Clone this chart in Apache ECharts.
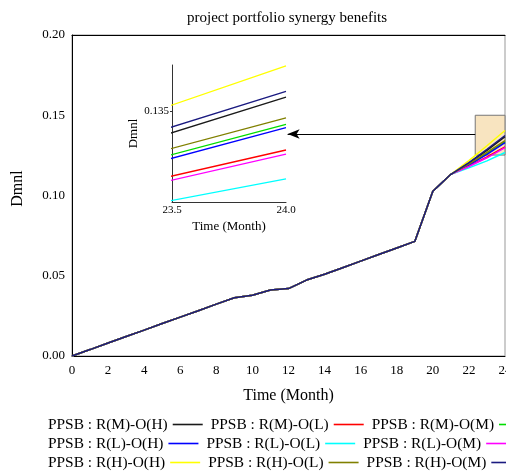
<!DOCTYPE html>
<html><head><meta charset="utf-8">
<script src="https://cdn.jsdelivr.net/npm/echarts@6/dist/echarts.min.js"></script>
<style>html,body{margin:0;padding:0;background:#fff}#c{width:506px;height:471px}</style>
</head><body><div id="c"></div>
<script>
// ---- data ----
const months = [0,1,2,3,4,5,6,7,8,9,10,11,12,13,14,15,16,17,18,19,20,21,22,23,24];
// values common to every scenario (month 0..21)
const sharedValues = [0,0.0040,0.0081,0.0121,0.0161,0.0202,0.0242,0.0282,0.0323,0.0363,0.0378,0.0411,0.0420,0.0473,0.0509,0.0550,0.0591,0.0632,0.0673,0.0714,0.1026,0.1132];
// values for months 22, 23, 24
const tailRMOH = [0.1202,0.1281,0.1367];
const tailRMOL = [0.1183,0.1240,0.1303];
const tailRMOM = [0.1193,0.1261,0.1334];
const tailRLOH = [0.1190,0.1256,0.1330];
const tailRLOL = [0.1172,0.1216,0.1268];
const tailRLOM = [0.1181,0.1235,0.1298];
const tailRHOH = [0.1217,0.1310,0.1405];
const tailRHOL = [0.1196,0.1268,0.1342];
const tailRHOM = [0.1205,0.1288,0.1374];
const seriesNames = ['PPSB : R(M)-O(H)','PPSB : R(M)-O(L)','PPSB : R(M)-O(M)',
                     'PPSB : R(L)-O(H)','PPSB : R(L)-O(L)','PPSB : R(L)-O(M)',
                     'PPSB : R(H)-O(H)','PPSB : R(H)-O(L)','PPSB : R(H)-O(M)'];
const seriesTails = [tailRMOH,tailRMOL,tailRMOM,tailRLOH,tailRLOL,tailRLOM,tailRHOH,tailRHOL,tailRHOM];
const seriesColors = ['#1a1a1a','#ff0000','#00dd00','#0000ff','#00ffff','#ff00ff','#ffff00','#808000','#1a1a80'];
const insetYTick = [0.135];
const insetXRange = [23.5,24.0];
const insetYRange = [0.1240,0.1406];
const zoomBoxX = [22.35,24.2];
const zoomBoxY = [0.1252,0.1500];
const arrowX = [22.35,11.95];
const arrowY = 0.1383;

const FONT = 'Liberation Serif';
function buildData(tail){
  return months.map((m,i)=>[m, i < sharedValues.length ? sharedValues[i] : tail[i - sharedValues.length]]);
}
const series = [];
series.push({
  type:'line', xAxisIndex:0, yAxisIndex:0, data:[], z:1, silent:true, clip:false,
  markArea:{silent:true, itemStyle:{color:'#f8e4c0', borderColor:'#777', borderWidth:1, opacity:1},
    data:[[{coord:[zoomBoxX[0],zoomBoxY[1]]},{coord:[zoomBoxX[1],zoomBoxY[0]]}]]},
  markLine:{silent:true, symbol:['none','arrow'], symbolSize:[7,12], label:{show:false},
    lineStyle:{color:'#000', width:1, type:'solid'},
    data:[[{coord:[arrowX[0],arrowY]},{coord:[arrowX[1],arrowY]}]]}
});
seriesNames.forEach((n,i)=>{
  series.push({type:'line', name:n, xAxisIndex:0, yAxisIndex:0, data:buildData(seriesTails[i]),
    symbol:'none', z:3, lineStyle:{color:seriesColors[i], width:1.5}, itemStyle:{color:seriesColors[i]}, animation:false});
});
seriesNames.forEach((n,i)=>{
  series.push({type:'line', name:n, xAxisIndex:2, yAxisIndex:1, data:buildData(seriesTails[i]),
    symbol:'none', z:3, clip:true, lineStyle:{color:seriesColors[i], width:1.3}, itemStyle:{color:seriesColors[i]}, animation:false});
});

const legendBase = {orient:'horizontal', left:48, width:560, padding:0, align:'right', icon:'rect', itemWidth:30, itemHeight:1.6, itemGap:8,
  textStyle:{fontFamily:FONT, fontSize:15.4, color:'#000'}, selectedMode:false};

const option = {
  animation:false,
  backgroundColor:'#fff',
  title:{text:'project portfolio synergy benefits', left:182, top:6,
    textStyle:{fontFamily:FONT, fontSize:15, fontWeight:'normal', color:'#000'}},
  legend:[
    Object.assign({}, legendBase, {top:417, data:seriesNames.slice(0,3)}),
    Object.assign({}, legendBase, {top:436, data:seriesNames.slice(3,6)}),
    Object.assign({}, legendBase, {top:455, data:seriesNames.slice(6,9)})
  ],
  grid:[
    {left:72, top:35, width:433, height:321, show:true, borderColor:'#999', borderWidth:1, backgroundColor:'transparent', outerBoundsMode:'none', containLabel:false},
    {left:172, top:65, width:114, height:137, show:false, outerBoundsMode:'none', containLabel:false}
  ],
  xAxis:[
    {type:'value', gridIndex:0, min:0, max:24, interval:2, position:'bottom',
     name:'Time (Month)', nameLocation:'middle', nameGap:32,
     nameTextStyle:{fontFamily:FONT, fontSize:16, color:'#000'},
     axisLine:{show:true, onZero:false, lineStyle:{color:'#000', width:1}},
     axisTick:{show:false}, splitLine:{show:false},
     axisLabel:{fontFamily:FONT, fontSize:13, color:'#000', margin:8, showMaxLabel:true}},
    {type:'value', gridIndex:0, min:0, max:24, position:'top',
     axisLine:{show:true, onZero:false, lineStyle:{color:'#000', width:1}},
     axisTick:{show:false}, axisLabel:{show:false}, splitLine:{show:false}},
    {type:'value', gridIndex:1, min:insetXRange[0], max:insetXRange[1], interval:0.5,
     name:'Time (Month)', nameLocation:'middle', nameGap:18,
     nameTextStyle:{fontFamily:FONT, fontSize:13, color:'#000'},
     axisLine:{show:true, onZero:false, lineStyle:{color:'#333', width:1}},
     axisTick:{show:false}, splitLine:{show:false},
     axisLabel:{fontFamily:FONT, fontSize:11, color:'#000', margin:3, showMinLabel:true, showMaxLabel:true,
       formatter:v=>v.toFixed(1)}}
  ],
  yAxis:[
    {type:'value', gridIndex:0, min:0, max:0.2, interval:0.05,
     name:'Dmnl', nameLocation:'middle', nameGap:46, nameRotate:90,
     nameTextStyle:{fontFamily:FONT, fontSize:16, color:'#000', padding:[0,0,0,14]},
     axisLine:{show:true, onZero:false, lineStyle:{color:'#000', width:1}},
     axisTick:{show:false}, splitLine:{show:false},
     axisLabel:{fontFamily:FONT, fontSize:13, color:'#000', margin:7, formatter:v=>v.toFixed(2)}},
    {type:'value', gridIndex:1, min:insetYRange[0], max:insetYRange[1],
     name:'Dmnl', nameLocation:'middle', nameGap:20, nameRotate:90,
     nameTextStyle:{fontFamily:FONT, fontSize:13, color:'#000'},
     axisLine:{show:true, onZero:false, lineStyle:{color:'#333', width:1}},
     axisTick:{show:true, length:2, customValues:insetYTick, lineStyle:{color:'#333'}},
     splitLine:{show:false},
     axisLabel:{fontFamily:FONT, fontSize:11, color:'#000', margin:3, customValues:insetYTick,
       formatter:v=>v.toFixed(3)}}
  ],
  series:series
};
const chart = echarts.init(document.getElementById('c'), null, {renderer:'canvas'});
chart.setOption(option);
</script></body></html>
